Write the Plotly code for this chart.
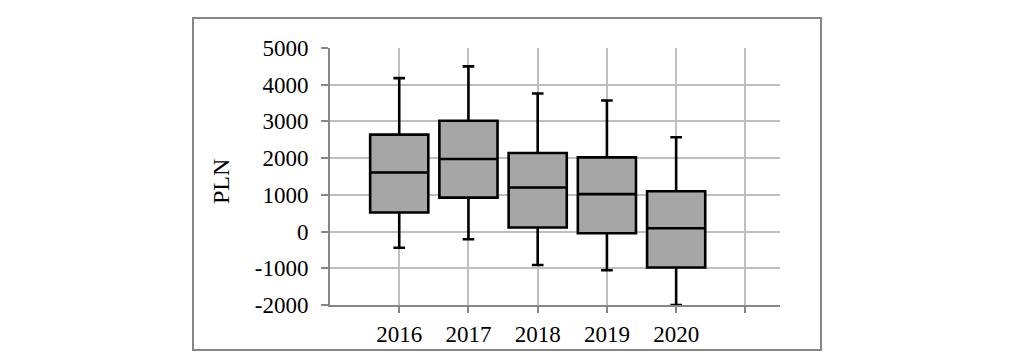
import plotly.graph_objects as go

years = [2016, 2017, 2018, 2019, 2020]
upper = [4180, 4500, 3760, 3570, 2570]
q3 = [2640, 3020, 2140, 2020, 1100]
median = [1610, 1975, 1200, 1020, 90]
q1 = [520, 925, 110, -45, -980]
lower = [-440, -210, -910, -1055, -2000]

x_tick_vals = [2016, 2017, 2018, 2019, 2020, 2021]
x_tick_text = ["2016", "2017", "2018", "2019", "2020", ""]
y_tick_vals = [-2000, -1000, 0, 1000, 2000, 3000, 4000, 5000]
y_tick_text = ["-2000", "-1000", "0", "1000", "2000", "3000", "4000", "5000"]
y_title = "PLN"

W, H = 1023, 362
L, R, T, B = 330, 243, 48, 57

fig = go.Figure()
fig.add_trace(go.Box(
    x=years, q1=q1, median=median, q3=q3,
    lowerfence=lower, upperfence=upper,
    fillcolor="#a6a6a6",
    line=dict(color="#000000", width=2.6),
    width=0.84, whiskerwidth=0.2,
    boxpoints=False, showlegend=False, hoverinfo="skip",
))

pw = W - L - R
ph = H - T - B
def px_x(p):
    return (p - L) / pw
def px_y(p):
    return (H - B - p) / ph

fig.add_shape(type="rect", xref="paper", yref="paper",
              x0=px_x(193), x1=px_x(821), y0=px_y(350), y1=px_y(18),
              line=dict(color="#868686", width=2), layer="below")

fig.add_annotation(text=y_title, xref="paper", yref="paper",
                   x=px_x(221), y=px_y(182), xanchor="center", yanchor="middle",
                   textangle=-90, showarrow=False,
                   font=dict(family="Liberation Serif", size=24, color="#000000"))

axis_font = dict(family="Liberation Serif", size=23, color="#000000")
fig.update_layout(
    width=W, height=H,
    margin=dict(l=L, r=R, t=T, b=B, pad=0, autoexpand=False),
    paper_bgcolor="white", plot_bgcolor="white",
    font=axis_font,
    xaxis=dict(range=[2015, 2021.5], tickvals=x_tick_vals, ticktext=x_tick_text,
               showgrid=True, gridcolor="#bfbfbf", gridwidth=2,
               showline=True, linecolor="#868686", linewidth=2,
               ticks="outside", ticklen=6, tickcolor="#868686", tickwidth=2,
               zeroline=False, tickfont=axis_font, ticklabelstandoff=1,
               automargin=False),
    yaxis=dict(range=[-2000, 5000], tickvals=y_tick_vals, ticktext=y_tick_text,
               showgrid=True, gridcolor="#bfbfbf", gridwidth=2,
               showline=True, linecolor="#868686", linewidth=2,
               ticks="outside", ticklen=7, tickcolor="#868686", tickwidth=2,
               zeroline=False, tickfont=axis_font, ticklabelstandoff=8,
               automargin=False),
)

fig.write_html("out.html")
